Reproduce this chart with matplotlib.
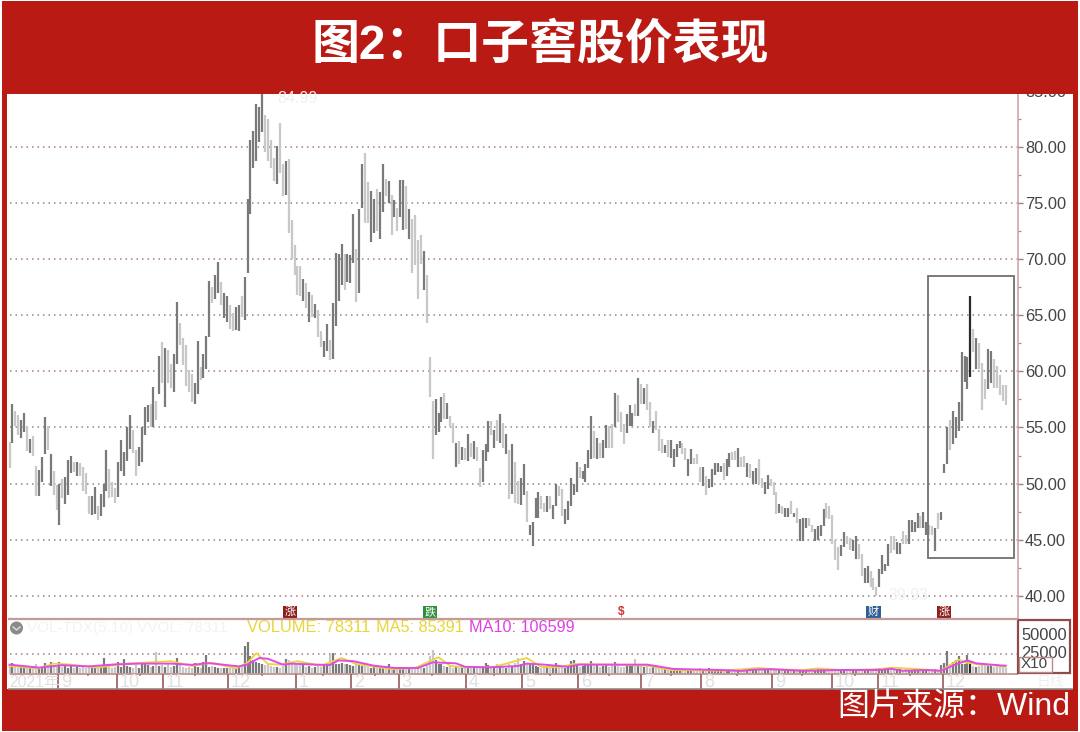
import matplotlib
matplotlib.use("Agg")
import matplotlib.pyplot as plt
from matplotlib.patches import Rectangle, Circle
import numpy as np

plt.rcParams['font.family'] = ['Liberation Sans', 'Noto Sans CJK SC', 'DejaVu Sans']

# price bars (high, low, tone: D dark, L light, K black)
highs_a = [53.7, 57.1, 56.5, 56.1, 55.7, 56.3, 55.1, 54.0, 54.2, 51.6,
           51.2, 52.4, 55.9, 55.1, 52.6, 51.1, 49.9, 50.0, 50.4, 50.6,
           52.1, 52.5, 51.9, 51.9, 51.8, 51.5, 50.9, 48.9, 48.9, 49.7,
           48.0, 49.1, 50.0, 53.0, 51.3, 50.1, 49.6, 51.9, 53.9, 52.8,
           55.0, 56.1, 54.8, 53.0, 53.3, 55.0, 56.8, 57.0, 57.1, 58.6, 57.4]
lows_a = [51.4, 53.6, 55.1, 54.3, 54.1, 54.6, 52.9, 52.7, 52.5, 48.9,
          48.9, 50.1, 52.6, 53.0, 49.8, 49.0, 47.6, 46.3, 48.7, 48.2,
          49.0, 50.9, 51.0, 50.7, 50.7, 49.3, 49.1, 47.3, 47.2, 47.3,
          46.7, 47.1, 47.9, 49.3, 48.7, 48.8, 48.3, 48.8, 51.1, 50.7,
          52.0, 53.1, 52.7, 50.7, 51.6, 51.9, 54.3, 55.5, 55.0, 55.0, 55.7]
tones_a = "LDLLDDLDLL" "DDDLDLLDLD" "DDLDLLLLDD" "LDDDLLLDDD" "DDLLDDDDLD" "L"

highs_b = [61.4, 62.6, 62.1, 61.9, 60.7, 61.6, 66.2, 64.3, 63.0, 62.4,
           60.1, 59.8, 59.0, 62.7, 60.4, 61.6, 63.2, 68.1, 67.5, 68.6,
           69.8, 68.0, 67.0, 66.7, 65.9, 65.2, 65.8, 65.9, 66.7, 68.4,
           75.4, 80.7, 81.5, 83.9, 83.6, 84.99, 82.9, 82.5, 80.7, 79.1,
           80.1, 82.2, 78.5, 78.8, 79.0, 73.5, 71.3, 69.4, 69.4, 68.3,
           67.9, 67.1, 66.8, 66.0, 65.5, 63.6, 62.7, 64.2, 62.8, 66.1,
           70.6, 70.5, 71.4, 70.5, 70.5, 70.4, 74.1, 70.9, 74.5]
lows_b = [58.0, 59.0, 56.8, 59.0, 58.5, 58.2, 60.7, 62.4, 60.6, 58.7,
          58.2, 57.3, 57.1, 58.0, 59.2, 59.4, 60.2, 63.1, 66.1, 66.5,
          67.0, 65.9, 64.8, 64.4, 63.8, 63.6, 63.7, 63.6, 64.9, 64.6,
          68.8, 74.1, 78.2, 78.8, 80.5, 81.4, 79.6, 78.8, 78.2, 77.0,
          76.7, 77.7, 75.7, 75.8, 72.4, 70.0, 68.6, 66.8, 66.7, 66.3,
          65.7, 64.4, 64.9, 64.8, 63.1, 62.2, 61.3, 61.8, 61.0, 61.1,
          64.1, 66.3, 67.7, 67.3, 68.0, 67.9, 69.7, 66.2, 67.0]
tones_b = "DLDLLDDLLL" "LLDDLDDDLD" "DLDDLLDDLD" "DDDDDDLLLL" "DLLDLLLLLD" "LDLDLLDDLD" "DDDLDDDLD"

highs_c = [78.5, 79.5, 76.9, 76.1, 75.4, 76.3, 76.0, 78.5, 77.2, 77.0,
           75.8, 75.3, 74.6, 77.1, 77.1, 76.6, 74.5, 73.6, 74.0, 71.7,
           72.2, 70.8, 68.6, 61.3, 57.4, 57.5, 56.3, 57.7, 58.1, 57.2,
           56.0, 55.4, 53.6, 53.8, 53.3, 53.2, 54.4, 53.6, 53.8, 53.3,
           51.4, 53.0, 53.5, 55.6, 55.6, 54.8, 55.7, 56.2, 55.4, 54.4,
           53.0, 53.5, 51.9, 50.2, 50.5, 51.7, 49.3, 46.3, 46.6, 48.7,
           49.2, 48.9, 48.3, 48.9, 48.9, 48.1, 50.0, 49.8, 49.5, 47.7,
           48.4, 50.5, 50.0, 51.9, 51.5]
lows_c = [74.6, 73.3, 73.3, 71.6, 72.4, 72.5, 71.8, 74.2, 75.7, 75.0,
          72.2, 73.8, 72.5, 73.8, 72.6, 72.7, 71.8, 68.8, 69.5, 66.5,
          69.6, 67.3, 64.3, 57.7, 52.2, 54.3, 54.6, 55.5, 55.8, 55.8,
          55.0, 53.6, 51.5, 51.7, 52.1, 52.1, 52.0, 52.4, 52.2, 52.0,
          49.7, 50.1, 52.0, 52.8, 54.3, 53.2, 53.8, 53.6, 53.2, 52.6,
          48.6, 49.1, 48.3, 48.2, 48.1, 49.0, 46.6, 45.4, 44.4, 46.9,
          46.9, 47.7, 47.5, 47.5, 47.7, 46.8, 48.0, 48.9, 47.1, 46.4,
          46.7, 48.0, 49.0, 49.2, 50.5]
tones_c = "DLLDDLDDLD" "LDLDDLDLLL" "LDLLLDDDLD" "LLDLDLDLDL" "LDDDLDLDLD" "LDLLDDLDDD" "DLLDLDDLLD" "DDDDL"

highs_d = [51.1, 51.7, 53.0, 56.0, 54.7, 54.1, 53.6, 53.9, 55.2, 55.1,
           55.3, 58.1, 57.9, 56.4, 55.3, 56.2, 57.0, 56.3, 57.1, 59.4,
           58.9, 58.5, 58.9, 57.3, 55.6, 56.5, 54.9, 54.0, 53.4, 53.9,
           53.9, 53.1, 53.5, 53.8, 53.6, 53.2, 52.2, 53.1, 52.3, 52.6,
           51.5, 51.5, 50.7, 50.4, 51.3, 51.8, 51.8, 51.6, 51.8, 52.2,
           52.7, 52.8, 52.9, 53.2, 52.4, 52.5, 51.8, 51.7, 51.1, 51.4,
           52.2, 50.5, 50.1, 50.8, 50.4, 50.1, 49.2, 48.2, 48.0, 47.8,
           47.8, 48.4, 47.4, 47.8, 46.8, 46.9, 46.9, 46.9, 46.3, 45.9,
           46.2, 46.3, 47.7, 48.3, 48.0, 47.2, 45.0, 44.3, 44.5, 45.7,
           45.3, 45.1, 45.0, 45.3, 44.6, 43.7, 42.5, 42.6, 42.2, 41.6,
           40.8, 42.4, 43.6, 42.8, 44.6, 45.3, 45.3, 44.8]
lows_d = [50.4, 50.1, 51.4, 52.2, 52.3, 52.2, 52.3, 52.3, 53.2, 53.2,
          53.2, 55.0, 55.5, 54.6, 53.5, 54.5, 55.1, 55.1, 56.0, 56.0,
          57.1, 57.1, 56.6, 55.0, 54.5, 54.8, 52.9, 52.7, 52.7, 52.4,
          52.3, 51.5, 52.4, 53.2, 52.6, 52.1, 50.7, 51.7, 51.7, 51.7,
          50.1, 49.8, 49.0, 49.6, 49.7, 50.8, 51.0, 51.0, 50.3, 50.7,
          51.5, 52.1, 52.1, 51.5, 51.5, 51.5, 50.6, 50.5, 50.0, 50.0,
          50.0, 49.6, 49.1, 49.5, 49.8, 49.0, 47.3, 47.4, 47.3, 47.0,
          47.0, 47.3, 47.0, 46.5, 44.9, 44.9, 46.0, 46.2, 45.7, 44.9,
          45.0, 45.3, 46.2, 46.9, 46.8, 44.6, 43.2, 42.3, 43.5, 44.3,
          44.6, 44.1, 44.0, 43.3, 43.3, 41.7, 41.1, 41.1, 40.8, 40.5,
          40.0, 40.8, 41.9, 42.2, 42.6, 43.8, 44.1, 43.7]
tones_d = "DDDDLDLDDL" "LDLLLDDDLD" "LDLLDLLLDL" "DDDDLLDDLL" "LDLDDDDDLD" "DLLDLLDLDD" "LLDDLLLDLD" "DLDLDDDLLD" "DDDLLLLLDD" "LLDDLLDDLL" "LDDDDLLD"

highs_e = [44.7, 45.8, 45.4, 46.7, 46.7, 46.6, 47.4, 47.1, 47.5, 46.6,
           46.3, 46.2, 46.0, 47.4, 47.5, 51.7, 55.0, 55.7, 56.5, 55.9,
           57.3, 61.7, 61.4, 61.3, 66.7, 63.8, 63.0, 62.5, 60.8, 59.3,
           62.0, 61.8, 61.1, 60.5, 59.7, 58.8, 58.8]
lows_e = [43.7, 44.6, 44.6, 44.6, 45.7, 45.7, 46.0, 46.0, 46.0, 45.4,
          45.4, 45.4, 44.0, 45.9, 46.7, 50.9, 51.7, 53.0, 53.5, 54.1,
          54.7, 55.6, 59.1, 58.4, 59.5, 61.7, 60.2, 60.2, 56.6, 57.5,
          58.4, 59.0, 58.5, 58.5, 57.9, 57.4, 57.0]
tones_e = "DLLDDDDLDD" "LLDLDDDLDD" "DDDDKLDLLL" "DDLLLLL"

# volume per day, in thousands
volumes = [10, 14, 9, 8, 9, 8, 7, 8, 10, 12,
           8, 9, 14, 9, 15, 10, 9, 15, 9, 10,
           8, 12, 7, 9, 7, 9, 8, 9, 7, 8,
           9, 7, 20, 10, 9, 8, 9, 15, 9, 19,
           10, 9, 8, 11, 7, 12, 13, 11, 9, 10,
           27, 10, 11, 9, 12, 9, 10, 20, 11, 9,
           8, 9, 8, 14, 9, 8, 15, 24, 9, 10,
           9, 8, 7, 8, 7, 8, 7, 8, 9, 10,
           35, 40, 22, 17, 15, 14, 13, 11, 12, 10,
           9, 9, 8, 10, 19, 18, 13, 14, 13, 12,
           11, 9, 10, 8, 9, 10, 9, 11, 12, 24,
           26, 12, 13, 14, 12, 13, 11, 10, 14, 11,
           10, 12, 9, 8, 10, 8, 7, 9, 10, 12,
           8, 7, 6, 9, 7, 8, 7, 6, 8, 7,
           7, 8, 11, 22, 30, 18, 12, 13, 10, 9,
           10, 8, 9, 8, 7, 8, 9, 8, 7, 9,
           8, 10, 14, 11, 8, 9, 12, 9, 10, 8,
           13, 10, 14, 20, 13, 16, 13, 12, 13, 10,
           9, 8, 9, 10, 11, 10, 14, 8, 9, 8,
           9, 16, 18, 10, 9, 10, 11, 12, 16, 10,
           11, 9, 10, 11, 9, 12, 15, 10, 9, 9,
           10, 11, 12, 19, 11, 10, 9, 10, 8, 9,
           10, 7, 8, 6, 6, 5, 6, 5, 6, 6,
           5, 6, 6, 5, 6, 7, 6, 6, 7, 6,
           6, 5, 6, 5, 5, 6, 6, 5, 4, 5,
           4, 5, 6, 5, 6, 8, 6, 6, 7, 5,
           5, 6, 5, 6, 4, 5, 6, 5, 4, 5,
           6, 5, 4, 6, 5, 6, 8, 6, 6, 5,
           6, 5, 6, 5, 4, 6, 5, 6, 4, 6,
           5, 6, 5, 6, 6, 7, 8, 8, 7, 8,
           7, 6, 5, 6, 5, 6, 5, 5, 7, 6,
           5, 6, 5, 4, 5, 6, 5, 11, 14, 29,
           12, 15, 17, 22, 13, 12, 24, 16, 10, 9,
           10, 12, 11, 10, 13, 9, 12, 10, 9, 8]

ma10_days = [0, 10, 18, 27, 36, 44, 55, 62, 68, 78, 81, 85, 88, 93, 96, 104, 109, 112, 117,
             124, 131, 139, 144, 152, 155, 163, 173, 176, 182, 190, 194, 200, 217, 226, 242,
             249, 253, 259, 270, 282, 296, 300, 304, 312, 317, 322, 326, 329, 337, 339]
ma10 = [11.7, 8, 11, 9.5, 12, 13, 13, 11.5, 13.5, 9.5, 12, 20, 19, 11.7, 13, 11.7, 11.3, 17, 16,
        10.4, 7.5, 7.5, 14.6, 13.3, 9, 8.3, 10, 13, 11.7, 9, 11.7, 11.7, 11.7, 6.3, 5,
        3.8, 5.4, 6, 4, 5, 5, 6.5, 4, 5, 4, 12, 17, 13.3, 10.8, 10.4]
ma5_days = [0, 10, 15, 20, 30, 40, 55, 62, 69, 77, 81, 84, 88, 92, 98, 106, 113, 118, 130, 138,
            146, 150, 155, 165, 176, 181, 187, 192, 206, 217, 225, 243, 255, 260, 270, 275,
            283, 296, 300, 310, 317, 320, 323, 326, 330, 335, 339]
ma5 = [10, 7, 13, 12, 8, 13, 16, 10, 14, 7, 14, 26, 12.5, 11.7, 16, 10.4, 20, 12.5, 6, 7.5,
       21, 10, 8.3, 9, 20, 9, 8.3, 12.5, 11.7, 10.4, 5, 4.2, 7.5, 6, 5, 7,
       5, 6, 8, 6, 4, 11, 18, 14, 12, 11, 9]

price_ticks = [40, 45, 50, 55, 60, 65, 70, 75, 80, 85]
month_days = [16.5, 36.6, 52.2, 74.3, 97.5, 116.2, 132.5, 155.3, 174.4, 193.4, 214.9, 235.4, 259.4, 279.8, 295.5, 317.6]
month_labels = ['9', '10', '11', '12', '1', '2', '3', '4', '5', '6', '7', '8', '9', '10', '11', '12']
event_days = [95.5, 143, 208, 294, 318]
event_labels = ['涨', '跌', '$', '财', '涨']
event_colors = ['#8f1d1d', '#2f8f3a', '#d83030', '#2f5f95', '#8f2020']

highs = np.array(highs_a + highs_b + highs_c + highs_d + highs_e)
lows = np.array(lows_a + lows_b + lows_c + lows_d + lows_e)
tones = tones_a + tones_b + tones_c + tones_d + tones_e
days = np.arange(len(highs))
tone_colors = {'D': '#7a7a7a', 'L': '#c8c8c8', 'K': '#2a2a2a'}
bar_colors = [tone_colors[t] for t in tones]

W, H = 1080, 732
fig = plt.figure(figsize=(W / 100, H / 100), dpi=100, facecolor='white')

# whole-figure axes in pixels for the frame and decorations
bg = fig.add_axes([0, 0, 1, 1], zorder=0)
bg.set_xlim(0, W)
bg.set_ylim(H, 0)
bg.axis('off')
bg.add_patch(Rectangle((1.5, 1), 1076.5, 729.5, fc='#ba1a14', ec='none'))
bg.add_patch(Rectangle((7, 94), 1065.5, 595, fc='white', ec='none'))


def panel(x0, x1, y0, y1):
    return fig.add_axes([x0 / W, 1 - y1 / H, (x1 - x0) / W, (y1 - y0) / H], zorder=2)


day_w = 996.2 / 339
xlim = ((7 - 9.5) / day_w, (1072.5 - 9.5) / day_w)
dpx = lambda px: (px - 9.5) / day_w
dots = (0, (1, 2.6))

# price panel
ax = panel(7, 1072.5, 94, 618.5)
ax.patch.set_alpha(0)
ax.set_xlim(*xlim)
ax.set_ylim(40 - (618.5 - 595.5) / 11.2, 40 + (595.5 - 94) / 11.2)
ax.axis('off')
ax.hlines(price_ticks, dpx(10), dpx(1018), color='#a87c7c', lw=1.1, linestyles=dots, zorder=1)
ax.vlines(days, lows, highs, colors=bar_colors, lw=1.6, zorder=3)
ax.vlines(dpx(1017.5), 37, 90, color='#c9a0a0', lw=1.1, zorder=2)
ax.hlines(price_ticks, dpx(1017.5), dpx(1023), color='#b07a7a', lw=1, zorder=2)
ax.hlines(np.array(price_ticks) + 2.5, dpx(1017.5), dpx(1021), color='#b98a8a', lw=0.9, zorder=2)
for p in price_ticks:
    ax.text(dpx(1025), p, f'{p:.2f}', fontsize=11.8, color='#444444', va='center_baseline', ha='left', clip_on=True)
ax.text(dpx(277), 84.4, '84.99', fontsize=11.5, color='#f0f0f0', va='center')
ax.text(dpx(888), 40.0, '39.93', fontsize=11.5, color='#f0f0f0', va='center')

# event markers just above the volume panel
for d, s, c in zip(event_days, event_labels, event_colors):
    if s == '$':
        ax.text(d, 38.5, s, fontsize=8.5, color=c, ha='center', va='center', fontweight='bold')
    else:
        ax.text(d, 38.5, s, fontsize=8, color='white', ha='center', va='center',
                bbox=dict(boxstyle='square,pad=0.14', fc=c, ec='none'))

# volume panel
vx = panel(7, 1072.5, 619, 689)
vx.patch.set_alpha(0)
vx.set_xlim(*xlim)
vx.axis('off')
k_per_px = 1.25
vx.set_ylim(-(689 - 674) * k_per_px, (674 - 619) * k_per_px)
vx.vlines(days, 0, volumes, colors=bar_colors, lw=1.6, zorder=2)
vx.plot(ma5_days, ma5, color='#ead53a', lw=1.3, zorder=3)
vx.plot(ma10_days, ma10, color='#e24ae6', lw=1.4, zorder=4)
vx.hlines(25, dpx(10), dpx(1018), color='#a87c7c', lw=1.1, linestyles=dots, zorder=1)
vx.hlines(0, dpx(10), dpx(1018), color='#c49a9a', lw=1.4, zorder=3)
vx.vlines(month_days, -18.5, 0, color='#a97070', lw=1.4, zorder=3)
mids = (np.array(month_days[:-1]) + np.array(month_days[1:])) / 2
vx.vlines(mids, -3, 0, color='#a97070', lw=1.1, zorder=3)
for d, s in zip(month_days, month_labels):
    vx.text(d + 1, -10.5, s, fontsize=13, color='#e0e0e0', va='center')
vx.text(dpx(9), -10.5, '2021年', fontsize=11.3, color='#e0e0e0', va='center')
vx.text(dpx(1050), -10.5, '日线', fontsize=10, color='#eeeeee', va='center', ha='center')

# top and bottom rules, legend and volume scale, in pixels
ov = fig.add_axes([0, 0, 1, 1], zorder=3)
ov.set_xlim(0, W)
ov.set_ylim(H, 0)
ov.axis('off')
ov.patch.set_alpha(0)
ov.plot([9, 1017], [619, 619], color='#c49a9a', lw=1.6)
ov.plot([9, 1072], [688.5, 688.5], color='#8c8c8c', lw=1.2)
ov.add_patch(Rectangle((928, 276), 86, 282, fc='none', ec='#707070', lw=1.3))
ov.add_patch(Circle((16.5, 628), 6.5, fc='#8a8a8a', ec='none'))
ov.plot([13, 16.5, 20], [627, 630, 627], color='#e0e0e0', lw=1)
ov.text(27, 628, 'VOL-TDX(5,10) VVOL: 78311', fontsize=11, color='#f3f3f3', va='center')
ov.text(247, 628, 'VOLUME: 78311', fontsize=11.9, color='#e8d53a', va='center')
ov.text(376, 628, 'MA5: 85391', fontsize=11.7, color='#e8d53a', va='center')
ov.text(469, 628, 'MA10: 106599', fontsize=11.7, color='#e040e6', va='center')
ov.add_patch(Rectangle((1018, 620), 52, 53, fc='none', ec='#8f4a4a', lw=1.6))
ov.text(1021, 635, '50000', fontsize=11.9, color='#444444', va='center', zorder=3)
ov.text(1021, 653.5, '25000', fontsize=11.9, color='#444444', va='center', zorder=3)
ov.add_patch(Rectangle((1019, 657), 33, 14.5, fc='white', ec='#b98a8a', lw=1, zorder=4))
ov.text(1021, 664.5, 'X10', fontsize=11, color='#444444', va='center', zorder=5)

# title and source in the red frame, with the full-width colon
ov.text(540, 46, '图2\uff1a口子窖股价表现', fontsize=34.5, color='white', fontweight='bold',
        ha='center', va='center')
ov.text(1070, 707, '图片来源\uff1aWind', fontsize=23, color='white', ha='right', va='center')

plt.savefig('out.png', dpi=100, facecolor='white')
